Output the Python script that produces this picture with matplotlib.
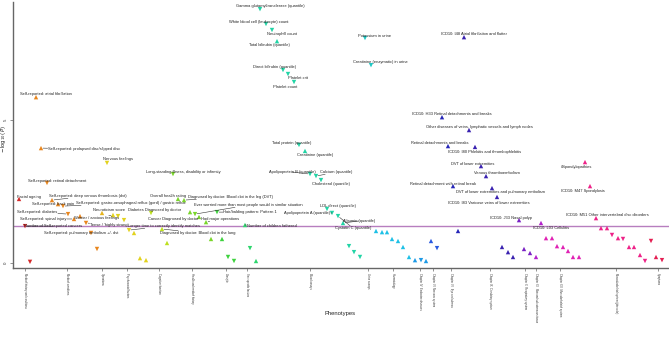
import matplotlib
matplotlib.use("Agg")
import matplotlib.pyplot as plt

# ---------------- data ----------------
categories = [
    "Medical history and conditions", "Medical conditions", "Operations",
    "Psychosocial factors", "Cognitive function", "Health and medical history",
    "Lifestyle", "Sex-specific factors", "Blood assays", "Urine assays",
    "Haematology", "Chapter IV  Endocrine diseases", "Chapter VI  Nervous system",
    "Chapter VII  Eye and adnexa", "Chapter IX  Circulatory system",
    "Chapter X  Respiratory system", "Chapter XII  Skin and subcutaneous tissue",
    "Chapter XIII  Musculoskeletal system",
    "Musculoskeletal system (phecode)", "Symptoms",
]
category_centre = [25, 67, 102, 127, 159, 192, 226, 247, 310, 368, 393, 420, 433,
                   451, 490, 525, 536, 560, 616, 658]

# phenotype order position, -log10(P), direction of effect (1 up / -1 down), category
position = [19, 25, 30,
            36, 41, 47, 52, 58, 63, 68, 74, 80, 86, 91, 97,
            102,
            107, 113, 118, 124, 129, 134, 140, 146,
            151, 162, 167,
            173, 178, 184, 190, 195, 199, 206, 211,
            217, 222, 228, 234,
            245, 250, 256,
            260, 266, 272, 277, 283, 288, 294, 299, 305, 310, 316, 321, 327, 332, 338, 343, 349, 354, 360,
            365, 371,
            376, 382, 387, 392, 398, 403, 409,
            415, 421, 426,
            431, 437,
            442, 448, 453, 458,
            464, 469, 475, 481, 486, 492, 497, 502, 508, 513,
            519, 524, 530,
            536, 541,
            546, 552, 557, 563, 568, 573, 579,
            585, 590, 596, 601, 607, 612, 618, 623, 629, 634, 640, 645,
            651, 656, 662]
neg_log_p = [2.24, 1.29, 0.04,
             5.80, 4.02, 2.80, 2.20, 2.06, 1.99, 1.71, 1.54, 1.64, 1.40, 1.05, 0.49,
             1.75,
             3.50, 1.68, 1.64, 1.50, 1.15, 1.05, 0.17, 0.10,
             1.75, 1.19, 0.70,
             3.11, 2.24, 2.20, 1.78, 1.71, 1.61, 1.43, 0.84,
             1.78, 0.84, 0.21, 0.07,
             1.33, 0.52, 0.07,
             8.88, 8.36, 8.15, 7.76, 6.75, 6.61, 6.33, 4.13, 3.92, 3.11, 3.04, 2.90, 1.89, 1.75, 1.64, 1.40, 0.59, 0.38, 0.21,
             7.87, 6.92,
             1.12, 1.08, 1.08, 0.84, 0.77, 0.56, 0.21,
             0.10, 0.10, 0.07,
             0.77, 0.52,
             5.10, 4.09, 2.69, 1.12,
             7.90, 4.65, 4.06, 3.39, 3.04, 2.62, 2.31, 0.56, 0.38, 0.21,
             1.50, 0.49, 0.35,
             0.21, 1.40,
             0.87, 0.87, 0.59, 0.56, 0.42, 0.21, 0.21,
             3.53, 2.69, 1.57, 1.22, 1.22, 0.98, 0.87, 0.84, 0.56, 0.56, 0.28, 0.07,
             0.77, 0.21, 0.10]
direction = [1, -1, -1,
             1, 1, -1, 1, 1, -1, -1, 1, 1, -1, -1, -1,
             1,
             -1, 1, -1, -1, -1, 1, 1, 1,
             -1, 1, 1,
             -1, 1, 1, 1, -1, 1, 1, 1,
             -1, 1, -1, -1,
             1, -1, 1,
             -1, -1, -1, 1, -1, -1, -1, -1, 1, -1, -1, -1, -1, -1, -1, 1, -1, -1, -1,
             -1, -1,
             1, 1, 1, 1, 1, 1, 1,
             1, -1, 1,
             1, -1,
             1, 1, 1, 1,
             1, 1, 1, 1, 1, 1, 1, 1, 1, 1,
             1, 1, 1,
             1, 1,
             1, 1, 1, 1, 1, 1, 1,
             1, 1, 1, 1, 1, -1, 1, -1, 1, 1, 1, -1,
             -1, 1, -1]
category_index = ([0] * 3 + [1] * 12 + [2] * 1 + [3] * 8 + [4] * 3 + [5] * 8 + [6] * 4 +
                  [7] * 3 + [8] * 19 + [9] * 2 + [10] * 7 + [11] * 3 + [12] * 2 + [13] * 4 +
                  [14] * 10 + [15] * 3 + [16] * 2 + [17] * 7 + [18] * 12 + [19] * 3)

# labelled phenotypes (position -> name)
label_position = [19, 25, 36, 41, 47, 52, 58, 63, 68, 74, 86, 91, 102, 107, 113, 129,
                  151, 162, 173, 178, 184, 195, 199, 206, 217, 245,
                  260, 266, 272, 277, 283, 288, 294, 299, 305, 310, 316, 321, 327, 332, 338, 343,
                  365, 371, 442, 448, 453, 464, 469, 475, 481, 486, 492, 497, 519, 541, 585, 590, 596]
label_text = [
    "Facial ageing", "Number of Self-reported cancers",
    "Self-reported: atrial fibrillation", "Self-reported: prolapsed disc/slipped disc",
    "Self-reported: retinal detachment", "Self-reported: deep venous thrombosis (dvt)",
    "Self-reported: back pain",
    "Self-reported: gastro-oesophageal reflux (gord) / gastric reflux",
    "Self-reported: diabetes", "Self-reported: spinal injury", "Tense / 'highly strung'",
    "Self-reported: pulmonary embolism +/- dvt", "Neuroticism score", "Nervous feelings",
    "Worrier / anxious feelings", "Longer time to correctly identify matches",
    "Diabetes Diagnosed by doctor", "Diagnosed by doctor: Blood clot in the lung",
    "Long-standing illness, disability or infirmity", "Overall health rating",
    "Diagnosed by doctor: Blood clot in the leg (DVT)",
    "Ever worried more than most people would in similar situation",
    "Cancer Diagnosed by doctor", "Had major operations", "Hair/balding pattern: Pattern 1",
    "Number of children fathered",
    "Gamma glutamyltransferase (quantile)", "White blood cell (leukocyte) count",
    "Neutrophill count", "Total bilirubin (quantile)", "Direct bilirubin (quantile)",
    "Platelet crit", "Platelet count", "Total protein (quantile)", "Creatinine (quantile)",
    "Apolipoprotein B (quantile)", "Calcium (quantile)", "Cholesterol (quantile)",
    "LDL direct (quantile)", "Apolipoprotein A (quantile)", "Cystatin C (quantile)",
    "Albumin (quantile)", "Potassium in urine", "Creatinine (enzymatic) in urine",
    "ICD10: H33 Retinal detachments and breaks", "Retinal detachments and breaks",
    "Retinal detachment with retinal break", "ICD10: I48 Atrial fibrillation and flutter",
    "Other diseases of veins, lymphatic vessels and lymph nodes",
    "ICD10: I80 Phlebitis and thrombophlebitis", "DVT of lower extremities",
    "Venous thromboembolism", "DVT of lower extremities and pulmonary embolism",
    "ICD10: I83 Varicose veins of lower extremities", "ICD10: J33 Nasal polyp",
    "ICD10: L03 Cellulitis", "#Spondylopathies", "ICD10: M47 Spondylosis",
    "ICD10: M51 Other intervertebral disc disorders",
]
significance = 1.301  # -log10(0.05)

# ---------------- layout / style ----------------
label_offset_px = [
    (10, -2), (28.5, 0), (10, -3), (43, 1), (10, -2), (35.5, -4), (-4.5, 0), (68, -3),
    (-30.5, -2), (-30.5, 0), (23, 2), (-9.5, 0), (7.5, -3), (11, -4), (-16, 3), (35, -4),
    (3.5, -3), (36, 4), (10, -2), (-9.5, -3), (46.5, -3), (53, -9), (-25.5, 2), (14, -3),
    (33, 0), (26.5, 1),
    (10.5, -3), (-7, -2), (10, 4), (-8, 4), (-8, -3), (10.5, 4), (-8.5, 5), (-7, -2),
    (10, 4), (-17.5, -2), (20.5, -4), (10.5, 4), (10.5, -3), (-24.5, 0), (15, 12), (16, -2),
    (10, -2), (9.5, -3), (10, -3), (-8.5, -3), (-9.5, -2), (10, -3), (10.5, -3), (10, 5),
    (-8.5, -2), (10.5, -3), (8.5, 4), (-8, 6), (-8, -2), (10.5, 5), (-8, 5), (-7.5, 5),
    (11.5, -3),
]
cat_colors = ["#d42a2a", "#e8861e", "#e6b41e", "#e2d21e", "#bde01e", "#7ad62a", "#3ed23e",
              "#2ed66e", "#22d4a6", "#1ec8c4", "#1ec0e6", "#1e9ae6", "#2a5ae0", "#2626b8",
              "#3a22b0", "#7a22c4", "#b422cc", "#e022b4", "#ee2288", "#e41e52"]

W, H, DPI = 669, 340, 100
fig = plt.figure(figsize=(W / DPI, H / DPI), dpi=DPI)
ax = fig.add_axes([13 / W, 72 / H, 1 - 13 / W, (268 - 2) / H])
ax.set_xlim(13, 669)
ax.set_ylim(-0.175, 9.13)

for d, mk in ((1, "^"), (-1, "v")):
    xs = [p for p, dd in zip(position, direction) if dd == d]
    ys = [v for v, dd in zip(neg_log_p, direction) if dd == d]
    cs = [cat_colors[c] for c, dd in zip(category_index, direction) if dd == d]
    ax.scatter(xs, ys, marker=mk, s=10, c=cs, linewidths=0, zorder=3)

ax.axhline(significance, color="#b070b8", lw=1.0, alpha=0.9, zorder=2)

lookup = dict(zip(position, neg_log_p))
px_to_pt = 72 / DPI
for p, txt, (dx, dy) in zip(label_position, label_text, label_offset_px):
    far = (dx * dx + dy * dy) ** 0.5 > 14 and abs(dx) > 12
    ax.annotate(txt, xy=(p, lookup[p]), xytext=(dx * px_to_pt, -dy * px_to_pt),
                textcoords="offset points", ha="center", va="center",
                fontsize=2.9, family="Liberation Sans", color="#222222", zorder=4,
                bbox=dict(boxstyle="square,pad=0.05", fc="none", ec="none"),
                arrowprops=(dict(arrowstyle="-", lw=0.4, color="#333333",
                                 shrinkA=0, shrinkB=1.5) if far else None))

for side in ("top", "right"):
    ax.spines[side].set_visible(False)
for side in ("left", "bottom"):
    ax.spines[side].set_color("#666666")
    ax.spines[side].set_linewidth(1.0)

ax.set_xticks(category_centre)
ax.set_xticklabels(categories, rotation=270, fontsize=1.9, family="Liberation Sans",
                   color="#333333", va="top", ha="center")
ax.tick_params(axis="x", length=2, width=0.5, color="#666666", pad=1.5)
ax.set_yticks([0, 5])
ax.set_yticklabels(["0", "5"], rotation=90, va="center", fontsize=3.2,
                   family="Liberation Sans", color="#333333")
ax.tick_params(axis="y", length=2, width=0.5, color="#666666", pad=1.5)

fig.text(4 / W, 1 - 139 / H, r"$-\,\log_{10}(P)$", fontsize=3.8, color="#222222",
         rotation=90, ha="center", va="center")
fig.text(340 / W, 1 - 313 / H, "Phenotypes", fontsize=4.2, family="Liberation Sans",
         ha="center", va="center", color="#222222")

fig.savefig("out.png", dpi=DPI)
